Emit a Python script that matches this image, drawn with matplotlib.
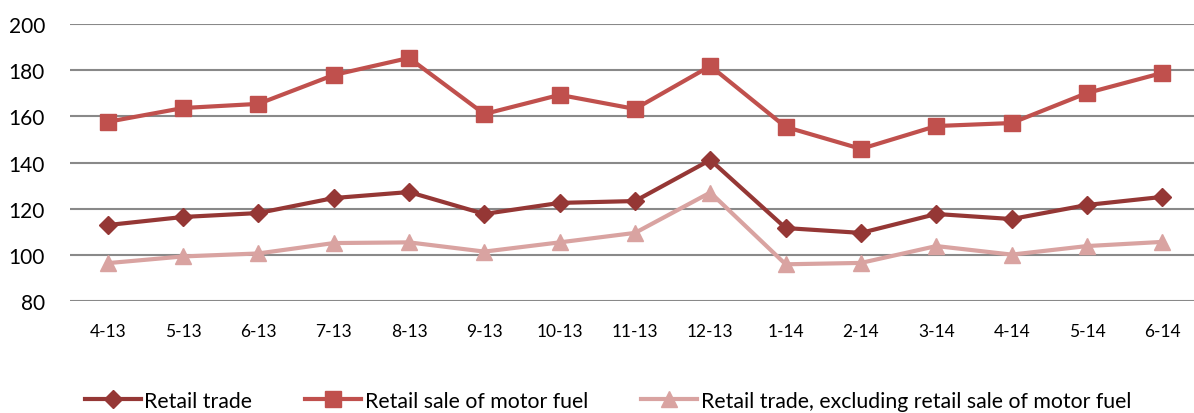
import matplotlib.pyplot as plt

months = ['4-13', '5-13', '6-13', '7-13', '8-13', '9-13', '10-13', '11-13',
          '12-13', '1-14', '2-14', '3-14', '4-14', '5-14', '6-14']
retail_trade = [112.9, 116.4, 118.1, 124.6, 127.2, 117.7, 122.5, 123.3,
                141.1, 111.6, 109.5, 117.7, 115.5, 121.6, 125.1]
motor_fuel = [157.6, 163.6, 165.4, 177.9, 185.3, 161.0, 169.3, 163.2,
              181.8, 155.4, 145.9, 155.8, 157.1, 170.1, 178.8]
excl_fuel = [96.4, 99.3, 100.6, 105.1, 105.4, 101.4, 105.4, 109.5,
             127.0, 95.9, 96.5, 103.8, 100.1, 103.8, 105.6]

plt.rcParams['font.family'] = ['Lato', 'DejaVu Sans']

fig = plt.figure(figsize=(11.94, 4.14), dpi=100)
ax = fig.add_axes([70 / 1194, 112 / 414, 1130 / 1194, 277 / 414])

x = range(len(months))
ax.plot(x, retail_trade, color='#953735', lw=3, marker='D', ms=9,
        label='Retail trade')
ax.plot(x, motor_fuel, color='#C0504D', lw=3, marker='s', ms=12,
        label='Retail sale of motor fuel')
ax.plot(x, excl_fuel, color='#D9A3A1', lw=3, marker='^', ms=12,
        label='Retail trade, excluding retail sale of motor fuel')

ax.set_xlim(-0.5, len(months) - 0.5)
ax.set_ylim(80, 200)
ax.set_yticks(range(80, 201, 20))
ax.set_xticks(list(x))
ax.set_xticklabels(months)
ax.grid(axis='y', color='#898989', lw=1.5)
ax.set_axisbelow(True)
for s in ax.spines.values():
    s.set_visible(False)
ax.tick_params(length=0)
ax.tick_params(axis='y', labelsize=15, pad=18)
ax.tick_params(axis='x', labelsize=12.5, pad=16)

fig.legend(loc='center', bbox_to_anchor=(0.509, 0.03), ncol=3, frameon=False,
           fontsize=15.3, handlelength=2.65, columnspacing=2.5,
           handletextpad=0.15)

fig.savefig('out.png', dpi=100)
